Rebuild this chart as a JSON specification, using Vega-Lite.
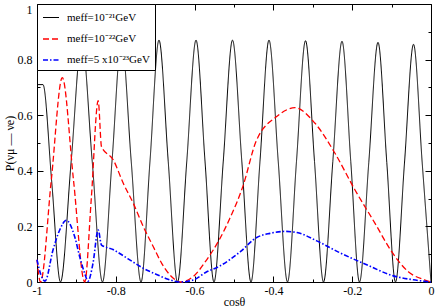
{
  "$schema": "https://vega.github.io/schema/vega-lite/v6.json",
  "width": 394,
  "height": 278,
  "autosize": {"type": "none"},
  "padding": {"left": 37, "top": 4, "right": 5, "bottom": 25},
  "background": "white",
  "config": {
    "font": "Liberation Serif",
    "view": {"stroke": "black", "strokeWidth": 1},
    "axis": {"grid": false, "domain": false, "labelFont": "Liberation Serif", "titleFont": "Liberation Serif", "labelFontSize": 12, "titleFontSize": 12, "labelColor": "black", "titleColor": "black", "tickColor": "black", "tickWidth": 1, "titleFontWeight": "normal", "labelFlush": false, "labelOverlap": false},
    "legend": {"orient": "top-left", "offset": 0, "fillColor": "white", "strokeColor": "black", "padding": 5, "symbolType": "stroke", "symbolSize": 256, "symbolStrokeWidth": 1.5, "labelFont": "Liberation Serif", "labelFontSize": 11, "labelColor": "black", "rowPadding": 7, "labelOffset": 7, "labelLimit": 0, "cornerRadius": 0}
  },
  "data": {"values": [
    {"c": -1.0, "p": 0.71, "s": "a"},
    {"c": -0.9848, "p": 0.71, "s": "a"},
    {"c": -0.9626, "p": 0.36, "s": "a"},
    {"c": -0.9404, "p": 0, "s": "a"},
    {"c": -0.9132, "p": 0.435, "s": "a"},
    {"c": -0.8863, "p": 0.87, "s": "a"},
    {"c": -0.8599, "p": 0.435, "s": "a"},
    {"c": -0.8338, "p": 0, "s": "a"},
    {"c": -0.8096, "p": 0.435, "s": "a"},
    {"c": -0.7855, "p": 0.87, "s": "a"},
    {"c": -0.7609, "p": 0.435, "s": "a"},
    {"c": -0.736, "p": 0, "s": "a"},
    {"c": -0.7132, "p": 0.435, "s": "a"},
    {"c": -0.6904, "p": 0.87, "s": "a"},
    {"c": -0.667, "p": 0.435, "s": "a"},
    {"c": -0.6434, "p": 0, "s": "a"},
    {"c": -0.6198, "p": 0.435, "s": "a"},
    {"c": -0.5964, "p": 0.87, "s": "a"},
    {"c": -0.5736, "p": 0.435, "s": "a"},
    {"c": -0.5508, "p": 0, "s": "a"},
    {"c": -0.5272, "p": 0.435, "s": "a"},
    {"c": -0.5038, "p": 0.87, "s": "a"},
    {"c": -0.4802, "p": 0.435, "s": "a"},
    {"c": -0.4569, "p": 0, "s": "a"},
    {"c": -0.434, "p": 0.435, "s": "a"},
    {"c": -0.4112, "p": 0.87, "s": "a"},
    {"c": -0.3878, "p": 0.435, "s": "a"},
    {"c": -0.3642, "p": 0, "s": "a"},
    {"c": -0.3414, "p": 0.434, "s": "a"},
    {"c": -0.3185, "p": 0.868, "s": "a"},
    {"c": -0.2957, "p": 0.434, "s": "a"},
    {"c": -0.2728, "p": 0, "s": "a"},
    {"c": -0.2492, "p": 0.433, "s": "a"},
    {"c": -0.2259, "p": 0.866, "s": "a"},
    {"c": -0.2036, "p": 0.433, "s": "a"},
    {"c": -0.1815, "p": 0, "s": "a"},
    {"c": -0.1579, "p": 0.43, "s": "a"},
    {"c": -0.1345, "p": 0.862, "s": "a"},
    {"c": -0.1122, "p": 0.43, "s": "a"},
    {"c": -0.0901, "p": 0, "s": "a"},
    {"c": -0.0673, "p": 0.428, "s": "a"},
    {"c": -0.0444, "p": 0.855, "s": "a"},
    {"c": -0.0223, "p": 0.428, "s": "a"},
    {"c": 0.0, "p": 0, "s": "a"},

    {"c": -1.0, "p": 0.08, "s": "b"},
    {"c": -0.9911, "p": 0, "s": "b"},
    {"c": -0.9635, "p": 0.37, "s": "b"},
    {"c": -0.9358, "p": 0.735, "s": "b"},
    {"c": -0.9074, "p": 0.367, "s": "b"},
    {"c": -0.8789, "p": 0, "s": "b"},
    {"c": -0.8622, "p": 0.3, "s": "b"},
    {"c": -0.8447, "p": 0.652, "s": "b"},
    {"c": -0.8363, "p": 0.487, "s": "b"},
    {"c": -0.8063, "p": 0.439, "s": "b"},
    {"c": -0.781, "p": 0.355, "s": "b"},
    {"c": -0.7556, "p": 0.283, "s": "b"},
    {"c": -0.7302, "p": 0.199, "s": "b"},
    {"c": -0.7048, "p": 0.127, "s": "b"},
    {"c": -0.6835, "p": 0.067, "s": "b"},
    {"c": -0.6624, "p": 0.025, "s": "b"},
    {"c": -0.6345, "p": 0, "s": "b"},
    {"c": -0.6033, "p": 0.02, "s": "b"},
    {"c": -0.5693, "p": 0.08, "s": "b"},
    {"c": -0.5355, "p": 0.157, "s": "b"},
    {"c": -0.5102, "p": 0.23, "s": "b"},
    {"c": -0.4772, "p": 0.345, "s": "b"},
    {"c": -0.4442, "p": 0.505, "s": "b"},
    {"c": -0.3916, "p": 0.595, "s": "b"},
    {"c": -0.3452, "p": 0.627, "s": "b"},
    {"c": -0.2944, "p": 0.571, "s": "b"},
    {"c": -0.2437, "p": 0.463, "s": "b"},
    {"c": -0.1929, "p": 0.331, "s": "b"},
    {"c": -0.1421, "p": 0.211, "s": "b"},
    {"c": -0.0997, "p": 0.109, "s": "b"},
    {"c": -0.0576, "p": 0.037, "s": "b"},
    {"c": -0.0152, "p": 0.007, "s": "b"},
    {"c": 0.0, "p": 0, "s": "b"},

    {"c": -1.0, "p": 0.08, "s": "c"},
    {"c": -0.9898, "p": 0.025, "s": "c"},
    {"c": -0.9797, "p": 0.003, "s": "c"},
    {"c": -0.9594, "p": 0.115, "s": "c"},
    {"c": -0.9424, "p": 0.187, "s": "c"},
    {"c": -0.9256, "p": 0.222, "s": "c"},
    {"c": -0.9043, "p": 0.163, "s": "c"},
    {"c": -0.8916, "p": 0.091, "s": "c"},
    {"c": -0.8789, "p": 0.031, "s": "c"},
    {"c": -0.8706, "p": 0.003, "s": "c"},
    {"c": -0.8579, "p": 0.067, "s": "c"},
    {"c": -0.8447, "p": 0.187, "s": "c"},
    {"c": -0.8363, "p": 0.133, "s": "c"},
    {"c": -0.8071, "p": 0.117, "s": "c"},
    {"c": -0.7817, "p": 0.095, "s": "c"},
    {"c": -0.7563, "p": 0.072, "s": "c"},
    {"c": -0.731, "p": 0.05, "s": "c"},
    {"c": -0.698, "p": 0.028, "s": "c"},
    {"c": -0.6675, "p": 0.01, "s": "c"},
    {"c": -0.6371, "p": 0, "s": "c"},
    {"c": -0.6041, "p": 0.007, "s": "c"},
    {"c": -0.5711, "p": 0.035, "s": "c"},
    {"c": -0.5355, "p": 0.058, "s": "c"},
    {"c": -0.4848, "p": 0.108, "s": "c"},
    {"c": -0.4424, "p": 0.16, "s": "c"},
    {"c": -0.4086, "p": 0.175, "s": "c"},
    {"c": -0.3706, "p": 0.182, "s": "c"},
    {"c": -0.3401, "p": 0.178, "s": "c"},
    {"c": -0.2901, "p": 0.148, "s": "c"},
    {"c": -0.231, "p": 0.105, "s": "c"},
    {"c": -0.1632, "p": 0.062, "s": "c"},
    {"c": -0.0957, "p": 0.022, "s": "c"},
    {"c": -0.0447, "p": 0.008, "s": "c"},
    {"c": 0.0, "p": 0, "s": "c"}
  ]},
  "layer": [
    {
      "mark": {"type": "line", "interpolate": "monotone"},
      "encoding": {
        "x": {"field": "c", "type": "quantitative", "scale": {"domain": [-1, 0], "nice": false, "zero": false},
          "axis": {"orient": "bottom", "values": [-1, -0.8, -0.6, -0.4, -0.2, 0], "ticks": false, "labelExpr": "toString(datum.value)", "labelPadding": 3, "title": "cosθ", "titleY": 23, "titleBaseline": "alphabetic"}},
        "y": {"field": "p", "type": "quantitative", "scale": {"domain": [0, 1], "nice": false},
          "axis": {"orient": "left", "values": [0, 0.2, 0.4, 0.6, 0.8, 1], "ticks": false, "labelExpr": "toString(datum.value)", "labelPadding": 5,
            "labelBaseline": {"condition": {"test": "datum.value == 1", "value": "top"}, "value": "middle"},
            "title": "P(νμ — νe)", "titleX": -21}},
        "color": {"field": "s", "type": "nominal",
          "scale": {"domain": ["a", "b", "c"], "range": ["#000000", "#ff0000", "#0000ff"]},
          "legend": {"title": null, "labelExpr": "datum.label == 'a' ? 'meff=10⁻²¹GeV' : datum.label == 'b' ? 'meff=10⁻²²GeV' : 'meff=5 x10⁻²³GeV'"}},
        "strokeDash": {"field": "s", "type": "nominal",
          "scale": {"domain": ["a", "b", "c"], "range": [[1, 0], [6, 3], [5, 2, 1.5, 2]]},
          "legend": {"title": null, "labelExpr": "datum.label == 'a' ? 'meff=10⁻²¹GeV' : datum.label == 'b' ? 'meff=10⁻²²GeV' : 'meff=5 x10⁻²³GeV'"}},
        "strokeWidth": {"field": "s", "type": "nominal",
          "scale": {"domain": ["a", "b", "c"], "range": [1, 1.6, 1.6]}, "legend": null}
      }
    },
    {
      "mark": {"type": "point", "opacity": 0},
      "encoding": {
        "x": {"field": "c", "type": "quantitative", "axis": {"orient": "bottom", "values": [-1, -0.8, -0.6, -0.4, -0.2, 0], "labels": false, "title": null, "tickSize": -6}},
        "y": {"field": "p", "type": "quantitative", "axis": {"orient": "left", "values": [0, 0.2, 0.4, 0.6, 0.8, 1], "labels": false, "title": null, "tickSize": -6}}
      }
    },
    {
      "mark": {"type": "point", "opacity": 0},
      "encoding": {
        "x": {"field": "c", "type": "quantitative", "axis": {"orient": "bottom", "values": [-0.9, -0.7, -0.5, -0.3, -0.1], "labels": false, "title": null, "tickSize": -3}},
        "y": {"field": "p", "type": "quantitative", "axis": {"orient": "left", "values": [0.1, 0.3, 0.5, 0.7, 0.9], "labels": false, "title": null, "tickSize": -3}}
      }
    },
    {
      "mark": {"type": "point", "opacity": 0},
      "encoding": {
        "x": {"field": "c", "type": "quantitative", "axis": {"orient": "top", "values": [-1, -0.8, -0.6, -0.4, -0.2, 0], "labels": false, "title": null, "tickSize": -6}},
        "y": {"field": "p", "type": "quantitative", "axis": {"orient": "right", "values": [0, 0.2, 0.4, 0.6, 0.8, 1], "labels": false, "title": null, "tickSize": -6}}
      }
    },
    {
      "mark": {"type": "point", "opacity": 0},
      "encoding": {
        "x": {"field": "c", "type": "quantitative", "axis": {"orient": "top", "values": [-0.9, -0.7, -0.5, -0.3, -0.1], "labels": false, "title": null, "tickSize": -3}},
        "y": {"field": "p", "type": "quantitative", "axis": {"orient": "right", "values": [0.1, 0.3, 0.5, 0.7, 0.9], "labels": false, "title": null, "tickSize": -3}}
      }
    }
  ],
  "resolve": {"axis": {"x": "independent", "y": "independent"}}
}
